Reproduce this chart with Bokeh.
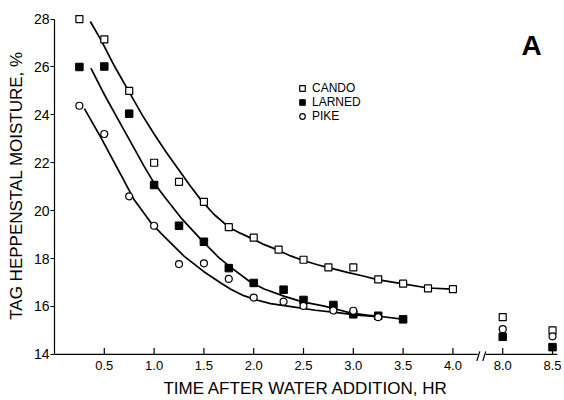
from bokeh.plotting import figure
from bokeh.models import FixedTicker, Legend, LegendItem, Label
from bokeh.embed import file_html
from bokeh.resources import INLINE

# ---------------- data ----------------
cando_t = [0.25, 0.5, 0.75, 1.0, 1.25, 1.5, 1.75, 2.0, 2.25, 2.5, 2.75, 3.0, 3.25, 3.5, 3.75, 4.0, 8.0, 8.5]
cando_m = [28.0, 27.15, 25.0, 22.0, 21.2, 20.37, 19.31, 18.87, 18.37, 17.95, 17.63, 17.63, 17.13, 16.95, 16.75, 16.72, 15.55, 15.0]

larned_t = [0.25, 0.5, 0.75, 1.0, 1.25, 1.5, 1.75, 2.0, 2.3, 2.5, 2.8, 3.0, 3.25, 3.5, 8.0, 8.5]
larned_m = [26.0, 26.02, 24.05, 21.07, 19.37, 18.7, 17.6, 16.98, 16.7, 16.27, 16.06, 15.67, 15.61, 15.46, 14.73, 14.3]

pike_t = [0.25, 0.5, 0.75, 1.0, 1.25, 1.5, 1.75, 2.0, 2.3, 2.5, 2.8, 3.0, 3.25, 8.0, 8.5]
pike_m = [24.38, 23.2, 20.6, 19.37, 17.77, 17.8, 17.15, 16.37, 16.2, 16.02, 15.83, 15.82, 15.55, 15.05, 14.75]

# fitted curves
cando_curve_t = [0.36, 0.47, 0.60, 0.75, 0.88, 1.0, 1.12, 1.24, 1.36, 1.47, 1.60, 1.75, 1.87, 2.0,
                 2.10, 2.24, 2.37, 2.49, 2.64, 2.74, 2.94, 3.11, 3.24, 3.50, 3.75, 4.0]
cando_curve_m = [27.9, 27.1, 26.05, 24.95, 24.0, 23.2, 22.45, 21.75, 21.05, 20.45, 19.85, 19.31, 19.05, 18.8,
                 18.59, 18.36, 18.11, 17.93, 17.74, 17.63, 17.42, 17.26, 17.12, 16.94, 16.77, 16.72]

larned_curve_t = [0.365, 0.5, 0.666, 0.8, 0.9, 1.0, 1.1, 1.27, 1.486, 1.65, 1.77, 1.97, 2.105, 2.31,
                  2.49, 2.71, 2.84, 2.98, 3.14, 3.24, 3.51]
larned_curve_m = [25.95, 24.85, 23.6, 22.6, 21.85, 21.15, 20.6, 19.7, 18.73, 18.04, 17.63, 17.01, 16.73, 16.42,
                  16.19, 16.01, 15.87, 15.72, 15.64, 15.60, 15.46]

pike_curve_t = [0.30, 0.465, 0.666, 0.8, 0.967, 1.07, 1.30, 1.5, 1.67, 1.77, 1.90, 2.02, 2.17, 2.41,
                2.62, 2.84, 3.04, 3.24]
pike_curve_m = [24.26, 23.06, 21.5, 20.45, 19.5, 19.05, 18.1, 17.45, 16.98, 16.72, 16.45, 16.28, 16.12, 15.97,
                15.84, 15.74, 15.64, 15.57]

x_ticks = [0.5, 1.0, 1.5, 2.0, 2.5, 3.0, 3.5, 4.0, 8.0, 8.5]
x_tick_labels = ["0.5", "1.0", "1.5", "2.0", "2.5", "3.0", "3.5", "4.0", "8.0", "8.5"]
y_ticks = [14, 16, 18, 20, 22, 24, 26, 28]

series_names = ["CANDO", "LARNED", "PIKE"]

# ---------------- broken time axis ----------------
BREAK_AT = 4.25      # hours shown before the break
HIDDEN = 3.5         # hours cut out by the break


def ax(t):
    return t if t <= BREAK_AT else t - HIDDEN


def axl(ts):
    return [ax(t) for t in ts]


FONT = "Liberation Sans"

p = figure(width=564, height=400, output_backend="svg", toolbar_location=None,
           x_range=(0, 5.05), y_range=(13.7, 28.4),
           min_border_left=54, min_border_right=7, min_border_top=9, min_border_bottom=35)
p.outline_line_color = None
p.xgrid.grid_line_color = None
p.ygrid.grid_line_color = None
p.background_fill_color = "white"
p.border_fill_color = "white"

# y axis (native)
p.yaxis.ticker = FixedTicker(ticks=y_ticks)
p.yaxis.bounds = (y_ticks[0], y_ticks[-1])
p.yaxis.axis_line_color = "black"
p.yaxis.axis_line_width = 1.2
p.yaxis.major_tick_out = 4
p.yaxis.major_tick_in = 0
p.yaxis.minor_tick_line_color = None
p.yaxis.major_tick_line_width = 1.2
p.yaxis.major_label_standoff = 1
p.yaxis.major_label_text_font = FONT
p.yaxis.major_label_text_font_size = "14px"
p.yaxis.major_label_text_color = "black"
p.yaxis.axis_label = "TAG HEPPENSTAL MOISTURE, %"
p.yaxis.axis_label_text_font = FONT
p.yaxis.axis_label_text_font_size = "17px"
p.yaxis.axis_label_text_font_style = "normal"
p.yaxis.axis_label_text_color = "black"
p.yaxis.axis_label_standoff = 5

# x axis: labels native, line and ticks drawn as glyphs (for the break)
p.xaxis.ticker = FixedTicker(ticks=axl(x_ticks))
p.xaxis.major_label_overrides = {ax(t): lab for t, lab in zip(x_ticks, x_tick_labels)}
p.xaxis.axis_line_color = None
p.xaxis.major_tick_line_color = None
p.xaxis.minor_tick_line_color = None
p.xaxis.major_tick_in = 0
p.xaxis.major_tick_out = 0
p.xaxis.major_label_standoff = -1
p.xaxis.major_label_text_font = FONT
p.xaxis.major_label_text_font_size = "13px"
p.xaxis.major_label_text_color = "black"
p.xaxis.axis_label = "TIME AFTER WATER ADDITION, HR"
p.xaxis.axis_label_text_font = FONT
p.xaxis.axis_label_text_font_size = "17px"
p.xaxis.axis_label_text_font_style = "normal"
p.xaxis.axis_label_text_color = "black"
p.xaxis.axis_label_standoff = 6

y0 = y_ticks[0]
# axis line in two pieces with a break
p.segment(x0=[0, ax(BREAK_AT) + 0.08], y0=[y0, y0], x1=[ax(BREAK_AT), 5.05], y1=[y0, y0],
          line_color="black", line_width=1.2)
p.segment(x0=[ax(BREAK_AT) - 0.01, ax(BREAK_AT) + 0.05], y0=[y0 - 0.28, y0 - 0.28],
          x1=[ax(BREAK_AT) + 0.02, ax(BREAK_AT) + 0.08], y1=[y0 + 0.12, y0 + 0.12],
          line_color="black", line_width=1.2)
# inward ticks
p.segment(x0=axl(x_ticks), y0=[y0] * len(x_ticks), x1=axl(x_ticks), y1=[y0 + 0.26] * len(x_ticks),
          line_color="black", line_width=1.2)

# curves
for ct, cm in [(cando_curve_t, cando_curve_m), (larned_curve_t, larned_curve_m), (pike_curve_t, pike_curve_m)]:
    p.line(axl(ct), cm, line_color="black", line_width=1.7)

# points
r_c = p.scatter(axl(cando_t), cando_m, marker="square", size=7, fill_color="white",
                line_color="black", line_width=1.2)
r_l = p.scatter(axl(larned_t), larned_m, marker="square", size=7.5, fill_color="black",
                line_color="black", line_width=1)
r_p = p.scatter(axl(pike_t), pike_m, marker="circle", size=7, fill_color="white",
                line_color="black", line_width=1.2)

legend = Legend(items=[LegendItem(label=series_names[0], renderers=[r_c]),
                       LegendItem(label=series_names[1], renderers=[r_l]),
                       LegendItem(label=series_names[2], renderers=[r_p])],
                location=(241, 238), orientation="vertical")
legend.border_line_color = None
legend.background_fill_alpha = 0
legend.padding = 0
legend.margin = 0
legend.spacing = 0
legend.glyph_width = 14
legend.glyph_height = 14
legend.label_height = 14
legend.label_standoff = 3
legend.label_text_font = FONT
legend.label_text_font_size = "12px"
legend.label_text_color = "black"
p.add_layout(legend)

panel = Label(x=4.79, y=26.9, text="A", text_font=FONT, text_font_size="28px",
              text_font_style="bold", text_align="center", text_baseline="alphabetic",
              text_color="black")
p.add_layout(panel)

open("out.html", "w").write(file_html(p, INLINE))
